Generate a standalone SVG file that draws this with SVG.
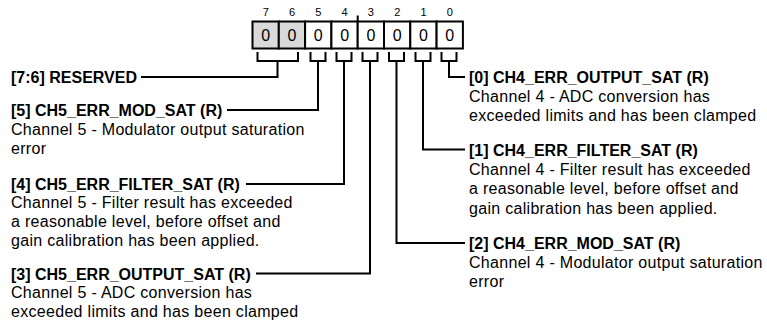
<svg xmlns="http://www.w3.org/2000/svg" width="767" height="328" viewBox="0 0 767 328">
<style>
.bitn{font-family:"Liberation Sans",Arial,sans-serif;font-size:11px;fill:#000;text-anchor:middle}
.val{font-family:"Liberation Sans",Arial,sans-serif;font-size:16px;fill:#000;text-anchor:middle}
.hdr{font-family:"Liberation Sans",Arial,sans-serif;font-size:16px;font-weight:bold;fill:#000}
.body{font-family:"Liberation Sans",Arial,sans-serif;font-size:16px;fill:#000;letter-spacing:0.3px}
.cell{stroke:#000;stroke-width:2;fill:#fff}
.res{fill:#d9d9d9}
.wire{fill:none;stroke:#000;stroke-width:2}
</style>
<rect width="767" height="328" fill="#fff"/>
<g id="register">
<text class="bitn" x="265.7" y="15.5">7</text>
<text class="bitn" x="292" y="15.5">6</text>
<text class="bitn" x="318.3" y="15.5">5</text>
<text class="bitn" x="344.6" y="15.5">4</text>
<text class="bitn" x="370.9" y="15.5">3</text>
<text class="bitn" x="397.2" y="15.5">2</text>
<text class="bitn" x="423.5" y="15.5">1</text>
<text class="bitn" x="449.8" y="15.5">0</text>
<line x1="357.7" y1="15.5" x2="357.7" y2="21.5" stroke="#000" stroke-width="2"/>
<rect class="cell res" x="252.5" y="21.5" width="26.3" height="27"/>
<rect class="cell res" x="278.8" y="21.5" width="26.3" height="27"/>
<rect class="cell" x="305.1" y="21.5" width="26.3" height="27"/>
<rect class="cell" x="331.4" y="21.5" width="26.3" height="27"/>
<rect class="cell" x="357.7" y="21.5" width="26.3" height="27"/>
<rect class="cell" x="384" y="21.5" width="26.3" height="27"/>
<rect class="cell" x="410.3" y="21.5" width="26.3" height="27"/>
<rect class="cell" x="436.6" y="21.5" width="26.3" height="27"/>
<text class="val" x="265.7" y="40.7">0</text>
<text class="val" x="292" y="40.7">0</text>
<text class="val" x="318.3" y="40.7">0</text>
<text class="val" x="344.6" y="40.7">0</text>
<text class="val" x="370.9" y="40.7">0</text>
<text class="val" x="397.2" y="40.7">0</text>
<text class="val" x="423.5" y="40.7">0</text>
<text class="val" x="449.8" y="40.7">0</text>
</g>
<g id="connectors">
<path class="wire" d="M257.5,52 V61 H298 V52 M277.5,61 V77 H141"/>
<path class="wire" d="M310.5,52 V61 H325.5 V52 M318,61 V110 H227"/>
<path class="wire" d="M336.5,52 V61 H351.5 V52 M344,61 V184 H246"/>
<path class="wire" d="M362.5,52 V61 H377.5 V52 M370,61 V273.5 H256"/>
<path class="wire" d="M389,52 V61 H404 V52 M396.5,61 V243 H465"/>
<path class="wire" d="M415.5,52 V61 H430.5 V52 M423,61 V149.5 H465"/>
<path class="wire" d="M441.5,52 V61 H456.5 V52 M449,61 V77 H465"/>
</g>
<g id="field-7-6">
<text class="hdr" x="11" y="83">[7:6] RESERVED</text>
</g>
<g id="field-5">
<text class="hdr" x="11" y="115.5">[5] CH5_ERR_MOD_SAT (R)</text>
<text class="body" x="11" y="134.5">Channel 5 - Modulator output saturation</text>
<text class="body" x="11" y="153.5">error</text>
</g>
<g id="field-4">
<text class="hdr" x="11" y="189.5">[4] CH5_ERR_FILTER_SAT (R)</text>
<text class="body" x="11" y="208">Channel 5 - Filter result has exceeded</text>
<text class="body" x="11" y="227">a reasonable level, before offset and</text>
<text class="body" x="11" y="246">gain calibration has been applied.</text>
</g>
<g id="field-3">
<text class="hdr" x="11" y="279.5">[3] CH5_ERR_OUTPUT_SAT (R)</text>
<text class="body" x="11" y="298">Channel 5 - ADC conversion has</text>
<text class="body" x="11" y="317">exceeded limits and has been clamped</text>
</g>
<g id="field-0">
<text class="hdr" x="469" y="83">[0] CH4_ERR_OUTPUT_SAT (R)</text>
<text class="body" x="469" y="101.5">Channel 4 - ADC conversion has</text>
<text class="body" x="469" y="120.5">exceeded limits and has been clamped</text>
</g>
<g id="field-1">
<text class="hdr" x="469" y="155.5">[1] CH4_ERR_FILTER_SAT (R)</text>
<text class="body" x="469" y="174.5">Channel 4 - Filter result has exceeded</text>
<text class="body" x="469" y="194">a reasonable level, before offset and</text>
<text class="body" x="469" y="213.5">gain calibration has been applied.</text>
</g>
<g id="field-2">
<text class="hdr" x="469" y="249">[2] CH4_ERR_MOD_SAT (R)</text>
<text class="body" x="469" y="268">Channel 4 - Modulator output saturation</text>
<text class="body" x="469" y="287">error</text>
</g>
</svg>
